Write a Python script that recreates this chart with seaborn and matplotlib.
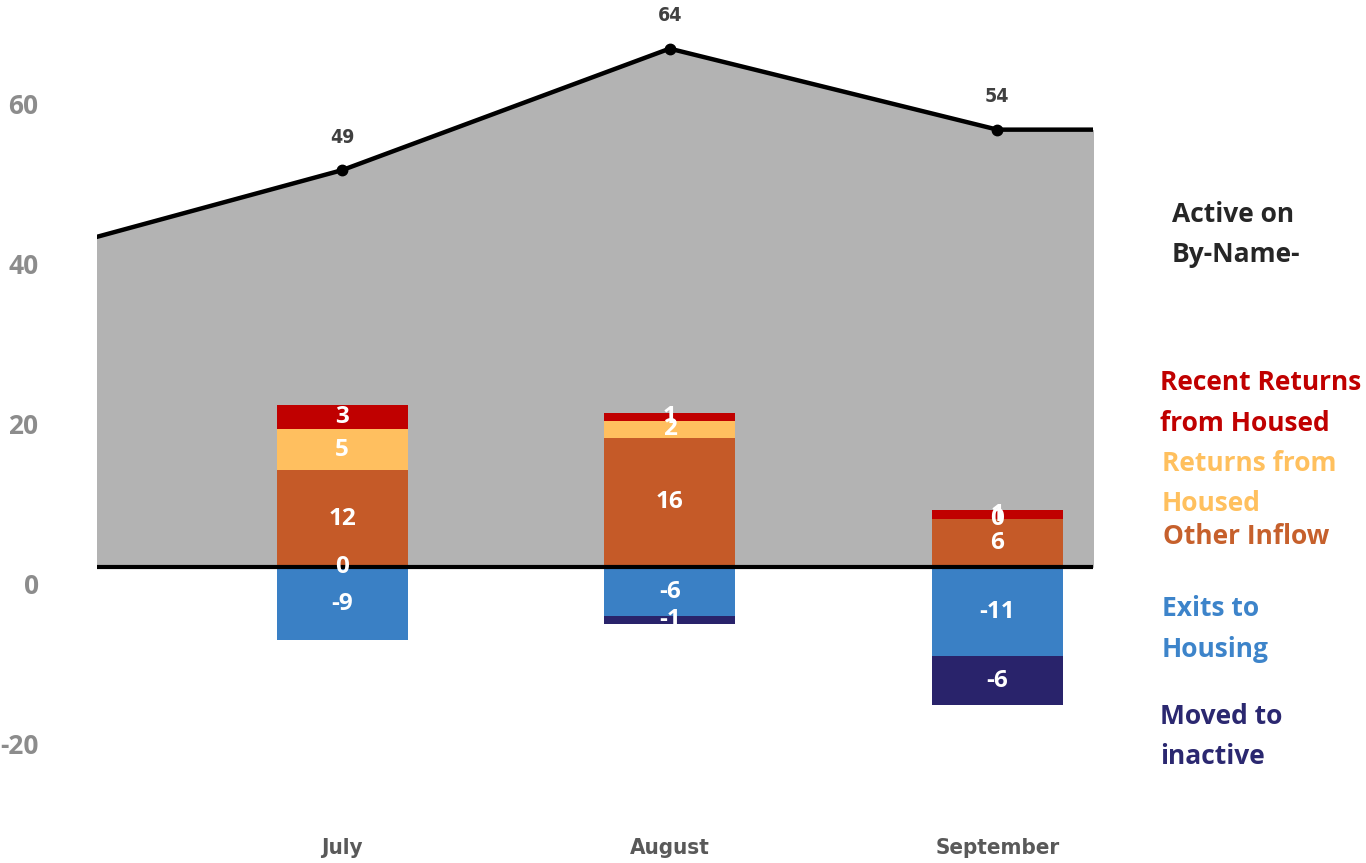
import numpy as np
import matplotlib
matplotlib.use("Agg")
import matplotlib.pyplot as plt
import seaborn as sns

# values
line_months = ["June", "July", "August", "September", "October"]
active_on_list = [38, 49, 64, 54, 54]

months = ["July", "August", "September"]
exits_to_housing = [-9, -6, -11]
moved_to_inactive = [0, -1, -6]
other_inflow = [12, 16, 6]
returns_from_housed = [5, 2, 0]
recent_returns = [3, 1, 1]

y_ticks = [-20, 0, 20, 40, 60]

# stacking order (as in the source chart) and colours
series = [
    ("Exits to\nHousing", exits_to_housing, "#3A80C5"),
    ("Moved to\ninactive", moved_to_inactive, "#29236B"),
    ("Other Inflow", other_inflow, "#C55A28"),
    ("Returns from\nHoused", returns_from_housed, "#FFBF5F"),
    ("Recent Returns\nfrom Housed", recent_returns, "#C00000"),
]

sns.set_theme(style="white")
plt.rcParams["font.family"] = ["Open Sans", "DejaVu Sans"]
plt.rcParams["axes.unicode_minus"] = False
narrow = ["Liberation Sans Narrow", "DejaVu Sans"]

W, H = 1366, 863
fig = plt.figure(figsize=(W / 100, H / 100), dpi=100)
ax = fig.add_axes([97 / W, 43 / H, 996 / W, 820 / H])

# active on by-name list: gray area + black line
line_x = np.arange(len(line_months)) - line_months.index(months[0])
ax.fill_between(line_x, 0, active_on_list, color="#B3B3B3", lw=0, zorder=1)
sns.lineplot(x=line_x, y=active_on_list, color="black", lw=3.2, sort=False,
             ax=ax, zorder=4)
pos = np.arange(len(months))
pt_vals = [active_on_list[line_months.index(m)] for m in months]
ax.plot(pos, pt_vals, "o", color="black", ms=7.5, zorder=5)
for x, v in zip(pos, pt_vals):
    ax.annotate(str(v), (x, v), xytext=(0, 33), textcoords="offset pixels",
                ha="center", va="center", fontsize=14, fontweight="bold",
                color="#404040", family=narrow, fontstretch="condensed")

# stacked flow bars
pos_base = np.zeros(len(months))
neg_base = np.zeros(len(months))
for name, vals, col in series:
    vals = np.array(vals, dtype=float)
    bottom = np.where(vals >= 0, pos_base, neg_base)
    sns.barplot(x=pos, y=vals, bottom=bottom, native_scale=True, orient="x",
                color=col, saturation=1, width=0.4, errorbar=None,
                linewidth=0, ax=ax, zorder=2)
    for x, b, v in zip(pos, bottom, vals):
        ax.text(x, b + v / 2, f"{v:.0f}", ha="center", va="center",
                fontsize=17.5, fontweight="bold", color="white", zorder=6)
    pos_base = np.where(vals >= 0, pos_base + vals, pos_base)
    neg_base = np.where(vals < 0, neg_base + vals, neg_base)

ax.axhline(0, color="black", lw=3, zorder=3)

ax.set_xlim(-0.748, 2.292)
ax.set_ylim(-31.2, 70)
ax.set_xticks(pos, months)
ax.set_yticks([])
ax.tick_params(axis="x", length=0, pad=13)
for lab in ax.get_xticklabels():
    lab.set_fontfamily(narrow)
    lab.set_fontstretch("condensed")
    lab.set_fontweight("bold")
    lab.set_fontsize(16)
    lab.set_color("#595959")
ax.set_xlabel("")
ax.set_ylabel("")
for s in ax.spines.values():
    s.set_visible(False)

# value axis labels (offset a little, as in the source)
ax_lab = ax.twinx()
ax_lab.yaxis.tick_left()
ax_lab.set_ylim(-29.6, 72.9)
ax_lab.set_yticks(y_ticks)
ax_lab.tick_params(axis="y", length=0, pad=42)
for lab in ax_lab.get_yticklabels():
    lab.set_fontweight("bold")
    lab.set_fontsize(19)
    lab.set_color("#8C8C8C")
for s in ax_lab.spines.values():
    s.set_visible(False)

# text legend on the right
legend_items = [
    ("Active on\nBy-Name-", "#262626", 1172, 215),
    ("Recent Returns\nfrom Housed", "#C00000", 1160, 383),
    ("Returns from\nHoused", "#FFC05E", 1162, 463),
    ("Other Inflow", "#C6602C", 1163, 536),
    ("Exits to\nHousing", "#3D84CA", 1162, 609),
    ("Moved to\ninactive", "#2B2870", 1160, 716),
]
for text, col, px, py in legend_items:
    for k, line in enumerate(text.split("\n")):
        fig.text(px / W, 1 - (py + k * 40) / H, line, ha="left", va="center",
                 fontsize=19, fontweight="bold", color=col)

fig.savefig("out.png", dpi=100)
